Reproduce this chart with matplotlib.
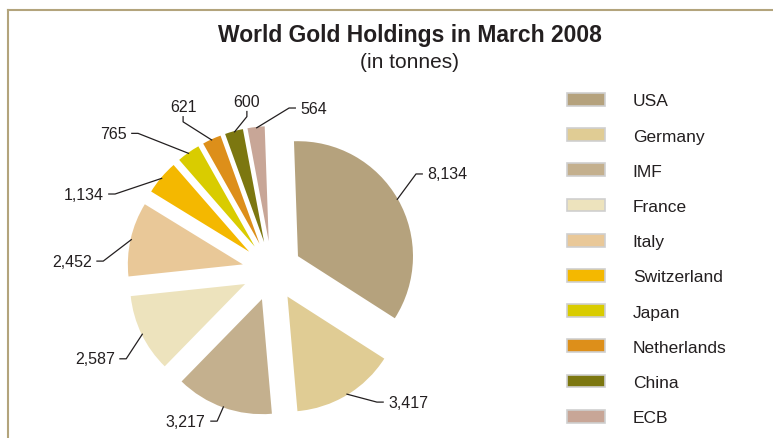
import numpy as np
import matplotlib
matplotlib.use("Agg")
import matplotlib.pyplot as plt
from matplotlib.patches import Patch
from matplotlib.lines import Line2D

plt.rcParams['font.family'] = ['Liberation Sans', 'DejaVu Sans']

# ---- data ----
countries = ["USA", "Germany", "IMF", "France", "Italy", "Switzerland",
             "Japan", "Netherlands", "China", "ECB"]
tonnes = [8134, 3417, 3217, 2587, 2452, 1134, 765, 621, 600, 564]
colors = ["#b5a27d", "#e0cc94", "#c4b08e", "#ede3bd", "#e9c898",
          "#f4b800", "#d9cc00", "#dd8f1a", "#7c7710", "#c8a697"]
title = "World Gold Holdings in March 2008"
subtitle = "(in tonnes)"

# ---- label leader layout: (elbow radius, angle offset from bisector, tick direction)
label_layout = [(1.51, 4.3, 'r'), (1.46, 7.5, 'r'), (1.39, -0.4, 'l'),
                (1.48, 5.2, 'l'), (1.47, 9.4, 'l'), (1.52, 14.1, 'l'),
                (1.67, 9.0, 'l'), (1.51, 6.2, 'u'), (1.36, -6.0, 'u'),
                (1.425, -12.3, 'r')]

W, H = 773, 439
fig = plt.figure(figsize=(W / 100, H / 100), dpi=100)
R_PX = 115.0
CX, CY = 272.0, 272.0  # pie centre in pixels from top-left

ax = fig.add_axes([0, 0, 1, 1])
wedges, _ = ax.pie(tonnes, colors=colors, startangle=92, counterclock=False,
                   explode=[0.26] * len(tonnes), radius=1.0,
                   wedgeprops=dict(linewidth=0))
ax.set_xlim(-CX / R_PX, (W - CX) / R_PX)
ax.set_ylim(-(H - CY) / R_PX, CY / R_PX)
ax.set_aspect('equal', adjustable='box')
ax.axis('off')

txt_color = "#231f20"
tick = 0.06
gap = 0.04
for w, v, (re, dphi, d) in zip(wedges, tonnes, label_layout):
    th = np.deg2rad((w.theta1 + w.theta2) / 2)
    sx, sy = 1.25 * np.cos(th), 1.25 * np.sin(th)
    ph = th + np.deg2rad(dphi)
    ex, ey = re * np.cos(ph), re * np.sin(ph)
    lab = f"{v:,}"
    if d == 'r':
        tx, ty = ex + tick, ey
        ax.text(tx + gap, ty, lab, ha='left', va='center', fontsize=11.5, color=txt_color)
    elif d == 'l':
        tx, ty = ex - tick, ey
        ax.text(tx - gap, ty, lab, ha='right', va='center', fontsize=11.5, color=txt_color)
    else:
        tx, ty = ex, ey + 0.05
        ax.text(tx, ty + 0.02, lab, ha='center', va='bottom', fontsize=11.5, color=txt_color)
    ax.plot([sx, ex, tx], [sy, ey, ty], color=txt_color, lw=0.9, solid_capstyle='butt')

# ---- legend ----
handles = [Patch(facecolor=c, edgecolor="#cfcfcf", linewidth=1.2) for c in colors]
leg = fig.legend(handles, countries, loc='upper left',
                 bbox_to_anchor=(567 / W, 1 - 94 / H), frameon=False,
                 fontsize=12.5, handlelength=2.19, handleheight=0.75,
                 handletextpad=1.6, labelspacing=1.14, borderpad=0, borderaxespad=0)
for t in leg.get_texts():
    t.set_color(txt_color)

# ---- titles ----
fig.text(410 / W, 1 - 35.5 / H, title, ha='center', va='center',
         fontsize=16.5, fontweight='bold', color=txt_color)
fig.text(410 / W, 1 - 62 / H, subtitle, ha='center', va='center',
         fontsize=15, color=txt_color)

# ---- frame ----
fc = "#b3a47c"
fig.add_artist(Line2D([8 / W, 1], [1 - 11 / H, 1 - 11 / H], color=fc, lw=1.5,
                      transform=fig.transFigure))
fig.add_artist(Line2D([8 / W, 8 / W], [0, 1 - 11 / H], color=fc, lw=1.5,
                      transform=fig.transFigure))

fig.savefig("out.png", dpi=100)
